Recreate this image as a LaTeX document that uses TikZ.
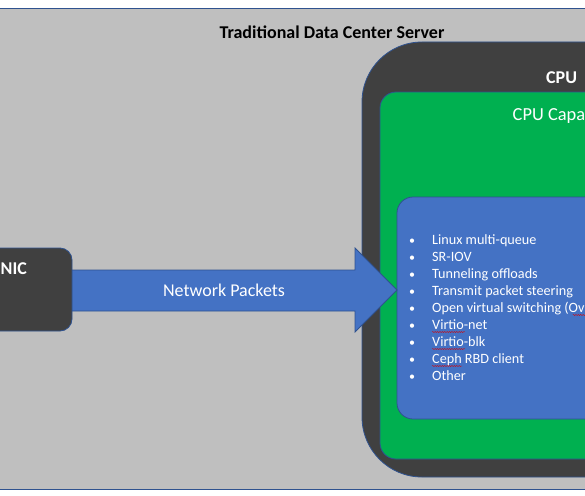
\documentclass[tikz,border=0pt]{standalone}
\usepackage{fontspec}
\setmainfont{Carlito}
\usetikzlibrary{calc,decorations.pathmorphing}
\definecolor{bggray}{HTML}{BFBFBF}
\definecolor{darkbox}{HTML}{404040}
\definecolor{greenbox}{HTML}{00B050}
\definecolor{bluebox}{HTML}{4472C4}
\definecolor{edgeblue}{HTML}{2F528F}
\tikzset{
  panel/.style={draw=edgeblue, line width=0.8pt},
  wtext/.style={text=white, inner sep=0pt, font=\fontsize{14.2}{14}\selectfont},
  bullettext/.style={wtext, anchor=base west},
  bulletdot/.style={wtext, anchor=base, font=\fontsize{12}{12}\selectfont},
  spell/.style={draw=red!85!black, line width=0.4pt, decorate, decoration={snake, amplitude=0.5pt, segment length=2.4pt}}
}
\begin{document}
\begin{tikzpicture}[x=1pt,y=-1pt]
\useasboundingbox (0,0) rectangle (585,495);
\clip (0,0) rectangle (585,495);
\fill[white] (0,0) rectangle (585,495);
% server background
\draw[panel, fill=bggray] (-5,8) rectangle (600,489);
\node[inner sep=0pt, anchor=base, font=\bfseries\fontsize{18}{18}\selectfont] (title) at (332,38) {Traditional Data Center Server};
% CPU
\draw[panel, fill=darkbox, rounded corners=60pt] (362,42) rectangle (680,477);
\node[wtext, anchor=base west, font=\bfseries\fontsize{18}{18}\selectfont] (cpu) at (546,83) {CPU};
\draw[panel, fill=greenbox, rounded corners=16pt] (380,92) rectangle (660,459);
\node[wtext, anchor=base west, font=\fontsize{18.4}{19}\selectfont] (cap) at (512.5,120) {CPU Capa};
\draw[panel, fill=bluebox, rounded corners=16pt] (397,197) rectangle (640,419);
% arrow
\coordinate (tail) at (60,290);
\coordinate (tip) at (397,290);
\draw[panel, fill=bluebox] ($(tail)+(0,-20)$) -- (355,270) -- (355,248) -- (tip) -- (355,332) -- (355,311) -- ($(tail)+(0,21)$) -- cycle;
\node[wtext, anchor=base, font=\fontsize{18}{18}\selectfont] (np) at (224,296) {Network Packets};
% NIC
\draw[panel, fill=darkbox, rounded corners=12pt] (-20,248) rectangle (72,331);
\node[wtext, anchor=base west, font=\bfseries\fontsize{18}{18}\selectfont] (nic) at (0.5,274) {NIC};
% bullet list
\foreach \t [count=\i from 0] in {Linux multi-queue, SR-IOV, Tunneling offloads, Transmit packet steering, Open virtual switching (Ov, Virtio-net, Virtio-blk, Ceph RBD client, Other}{
  \node[bulletdot] (b\i) at (412,244+17*\i) {•};
  \node[bullettext] (t\i) at (432,244+17*\i) {\t};
}
% spelling marks
\draw[spell] ($(t5.base west)+(0,3)$) -- ++(33,0);
\draw[spell] ($(t6.base west)+(0,3)$) -- ++(33,0);
\draw[spell] ($(t7.base west)+(0,3)$) -- ++(30,0);
\draw[spell] ($(t4.base east)+(-12,3)$) -- ++(20,0);
\end{tikzpicture}
\end{document}
